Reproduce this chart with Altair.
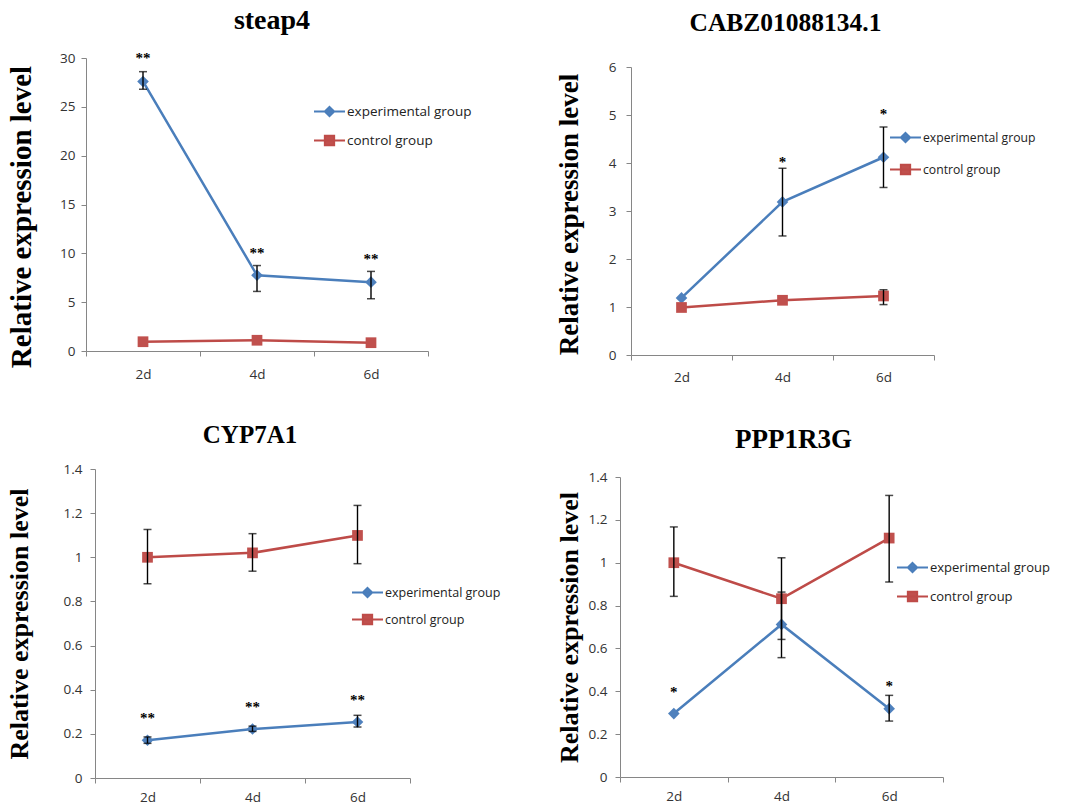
import altair as alt
import pandas as pd

days = ["2d", "4d", "6d"]
series_names = ["experimental group", "control group"]
blue_line, red_line = "#4A7EBB", "#BE4B48"
blue_mark, red_mark = "#4F81BD", "#C0504D"
diamond_path = "M-1,0L1,0M0,-0.3L0.3,0L0,0.3L-0.3,0Z"
square_path = "M-1,0L1,0M-0.3,-0.3L0.3,-0.3L0.3,0.3L-0.3,0.3Z"

# steap4
steap4_exp = [27.6, 7.75, 7.05]
steap4_exp_lo = [26.8, 6.1, 5.35]
steap4_exp_hi = [28.6, 8.75, 8.15]
steap4_ctl = [0.95, 1.1, 0.85]
steap4_ctl_lo = [None, None, None]
steap4_ctl_hi = [None, None, None]
steap4_sig = ["**", "**", "**"]
steap4_sig_y = [30.3, 10.3, 9.7]
steap4_ticks = [0, 5, 10, 15, 20, 25, 30]

# CABZ01088134.1
cabz_exp = [1.19, 3.19, 4.12]
cabz_exp_lo = [None, 2.48, 3.49]
cabz_exp_hi = [None, 3.89, 4.75]
cabz_ctl = [0.99, 1.14, 1.23]
cabz_ctl_lo = [None, None, 1.05]
cabz_ctl_hi = [None, None, 1.36]
cabz_sig = ["", "*", "*"]
cabz_sig_y = [None, 4.08, 5.08]
cabz_ticks = [0, 1, 2, 3, 4, 5, 6]

# CYP7A1
cyp_exp = [0.171, 0.222, 0.254]
cyp_exp_lo = [0.157, 0.211, 0.231]
cyp_exp_hi = [0.186, 0.235, 0.284]
cyp_ctl = [1.0, 1.02, 1.099]
cyp_ctl_lo = [0.88, 0.937, 0.971]
cyp_ctl_hi = [1.126, 1.107, 1.235]
cyp_sig = ["**", "**", "**"]
cyp_sig_y = [0.284, 0.334, 0.367]
frac_ticks = [0, 0.2, 0.4, 0.6, 0.8, 1.0, 1.2, 1.4]

# PPP1R3G
ppp_exp = [0.296, 0.712, 0.319]
ppp_exp_lo = [None, 0.557, 0.261]
ppp_exp_hi = [None, 0.863, 0.381]
ppp_ctl = [1.0, 0.832, 1.115]
ppp_ctl_lo = [0.843, 0.642, 0.91]
ppp_ctl_hi = [1.167, 1.023, 1.314]
ppp_sig = ["*", "", "*"]
ppp_sig_y = [0.412, None, 0.439]


def panel(title, exp, exp_lo, exp_hi, ctl, ctl_lo, ctl_hi, sig, sig_y, ticks, fmt,
          w, h, gap, left, tsize, tdx, toff, ysize, ypad, ytitle_shift, ylabpad, xlabpad,
          lx, ly, lrow, lsize):
    rows = []
    for i, d in enumerate(days):
        rows.append({"day": d, "series": series_names[0], "value": exp[i], "lo": exp_lo[i], "hi": exp_hi[i]})
        rows.append({"day": d, "series": series_names[1], "value": ctl[i], "lo": ctl_lo[i], "hi": ctl_hi[i]})
    df = pd.DataFrame(rows)
    sig_df = pd.DataFrame({"day": days, "label": sig, "y": sig_y})

    xaxis = alt.Axis(title=None, labelAngle=0, tickBand="extent", tickSize=5, labelPadding=xlabpad)
    xenc = alt.X("day:N", scale=alt.Scale(type="band", domain=days, paddingInner=0, paddingOuter=0,
                                          range=[left, left + w]), axis=xaxis)
    yscale = alt.Scale(domain=[ticks[0], ticks[-1]], range=[h, gap], nice=False, zero=True)
    yaxis = alt.Axis(values=ticks, format=fmt, title="Relative expression level",
                     titleFontSize=ysize, titlePadding=ypad, titleY=(h + gap) / 2 + ytitle_shift,
                     tickSize=5, labelPadding=ylabpad, offset=-left)

    def Y(field):
        return alt.Y(field, scale=yscale, axis=yaxis)

    base = alt.Chart(df)
    exp_df = base.transform_filter(alt.datum.series == series_names[0])
    ctl_df = base.transform_filter(alt.datum.series == series_names[1])
    line_exp = exp_df.mark_line(strokeWidth=2.5, color=blue_line).encode(x=xenc, y=Y("value:Q"))
    line_ctl = ctl_df.mark_line(strokeWidth=2.5, color=red_line).encode(x=xenc, y=Y("value:Q"))
    pts_exp = exp_df.mark_point(shape="diamond", filled=True, size=135, opacity=1, color=blue_mark).encode(
        x=xenc, y=Y("value:Q"))
    pts_ctl = ctl_df.mark_point(shape="square", filled=True, size=115, opacity=1, color=red_mark).encode(
        x=xenc, y=Y("value:Q"))
    errbase = base.transform_filter("isValid(datum.hi)")
    err = errbase.mark_rule(color="black", strokeWidth=1.4).encode(x=xenc, y=Y("lo:Q"), y2="hi:Q")
    cap_hi = errbase.mark_tick(color="black", size=8, thickness=1.5).encode(x=xenc, y=Y("hi:Q"))
    cap_lo = errbase.mark_tick(color="black", size=8, thickness=1.5).encode(x=xenc, y=Y("lo:Q"))
    stars = alt.Chart(sig_df).transform_filter("datum.label != ''").mark_text(
        font="Liberation Serif", fontWeight="bold", fontSize=15, baseline="alphabetic", dy=8, color="black"
    ).encode(x=xenc, y=Y("y:Q"), text="label:N")

    leg = alt.Legend(orient="none", legendX=lx, legendY=ly, title=None, symbolSize=961,
                     symbolStrokeWidth=2, symbolOpacity=1, labelFont="Open Sans", labelFontSize=lsize,
                     labelColor="#222", labelOffset=1, rowPadding=lrow, padding=0, labelLimit=400)
    legend_layer = base.transform_filter(alt.datum.day == "2d").mark_point(opacity=0, filled=True).encode(
        x=xenc, y=Y("value:Q"),
        fill=alt.Fill("series:N", scale=alt.Scale(domain=series_names, range=[blue_mark, red_mark]), legend=leg),
        stroke=alt.Stroke("series:N", scale=alt.Scale(domain=series_names, range=[blue_line, red_line]), legend=leg),
        shape=alt.Shape("series:N", scale=alt.Scale(domain=series_names, range=[diamond_path, square_path]), legend=leg),
    )
    return alt.layer(line_exp, line_ctl, pts_exp, pts_ctl, err, cap_hi, cap_lo, stars, legend_layer).properties(
        width=w + left, height=h,
        title=alt.TitleParams(title, font="Liberation Serif", fontWeight="bold", fontSize=tsize,
                              anchor="middle", frame="group", dx=tdx, offset=toff, color="black"),
    )


p1 = panel("steap4", steap4_exp, steap4_exp_lo, steap4_exp_hi, steap4_ctl, steap4_ctl_lo, steap4_ctl_hi,
           steap4_sig, steap4_sig_y, steap4_ticks, "d",
           342, 293, 0, 0, 28, 15, 16, 29, 23, 12, 6, 11,
           227, 37, 3, 13.5)
p2 = panel("CABZ01088134.1", cabz_exp, cabz_exp_lo, cabz_exp_hi, cabz_ctl, cabz_ctl_lo, cabz_ctl_hi,
           cabz_sig, cabz_sig_y, cabz_ticks, "d",
           303, 297, 9, 0, 25.5, 3, 22, 27, 25, 3, 10, 10,
           258, 63, 6, 12.2)
p3 = panel("CYP7A1", cyp_exp, cyp_exp_lo, cyp_exp_hi, cyp_ctl, cyp_ctl_lo, cyp_ctl_hi,
           cyp_sig, cyp_sig_y, frac_ticks, ".1~f",
           315, 309, 0, 9, 25, 2, 14, 26, 31, 0, 8, 7,
           265, 107, 1, 12.5)
p4 = panel("PPP1R3G", ppp_exp, ppp_exp_lo, ppp_exp_hi, ppp_ctl, ppp_ctl_lo, ppp_ctl_hi,
           ppp_sig, ppp_sig_y, frac_ticks, ".1~f",
           323, 308, 8, 0, 27, 12, 15, 26, 6, 0, 8, 7,
           276, 82, 3, 13)

res = dict(x="independent", y="independent", fill="independent", stroke="independent", shape="independent")
lres = dict(fill="independent", stroke="independent", shape="independent")
row1 = alt.hconcat(p1, p2, spacing=83).resolve_scale(**res).resolve_legend(**lres)
row2 = alt.hconcat(p3, p4, spacing=55).resolve_scale(**res).resolve_legend(**lres)
chart = alt.vconcat(row1, row2, spacing=39).resolve_scale(**res).resolve_legend(**lres).properties(
    padding={"left": 6, "top": 7, "right": 5, "bottom": 5}, background="white"
).configure_view(stroke=None).configure_axis(
    grid=False, domainColor="#868686", tickColor="#868686", domainWidth=1, tickWidth=1,
    labelFont="Open Sans", labelFontSize=13.5, labelColor="#333",
    titleFont="Liberation Serif", titleFontWeight="bold", titleColor="black",
)

chart.save("out.html", embed_options={"renderer": "svg", "actions": False})
